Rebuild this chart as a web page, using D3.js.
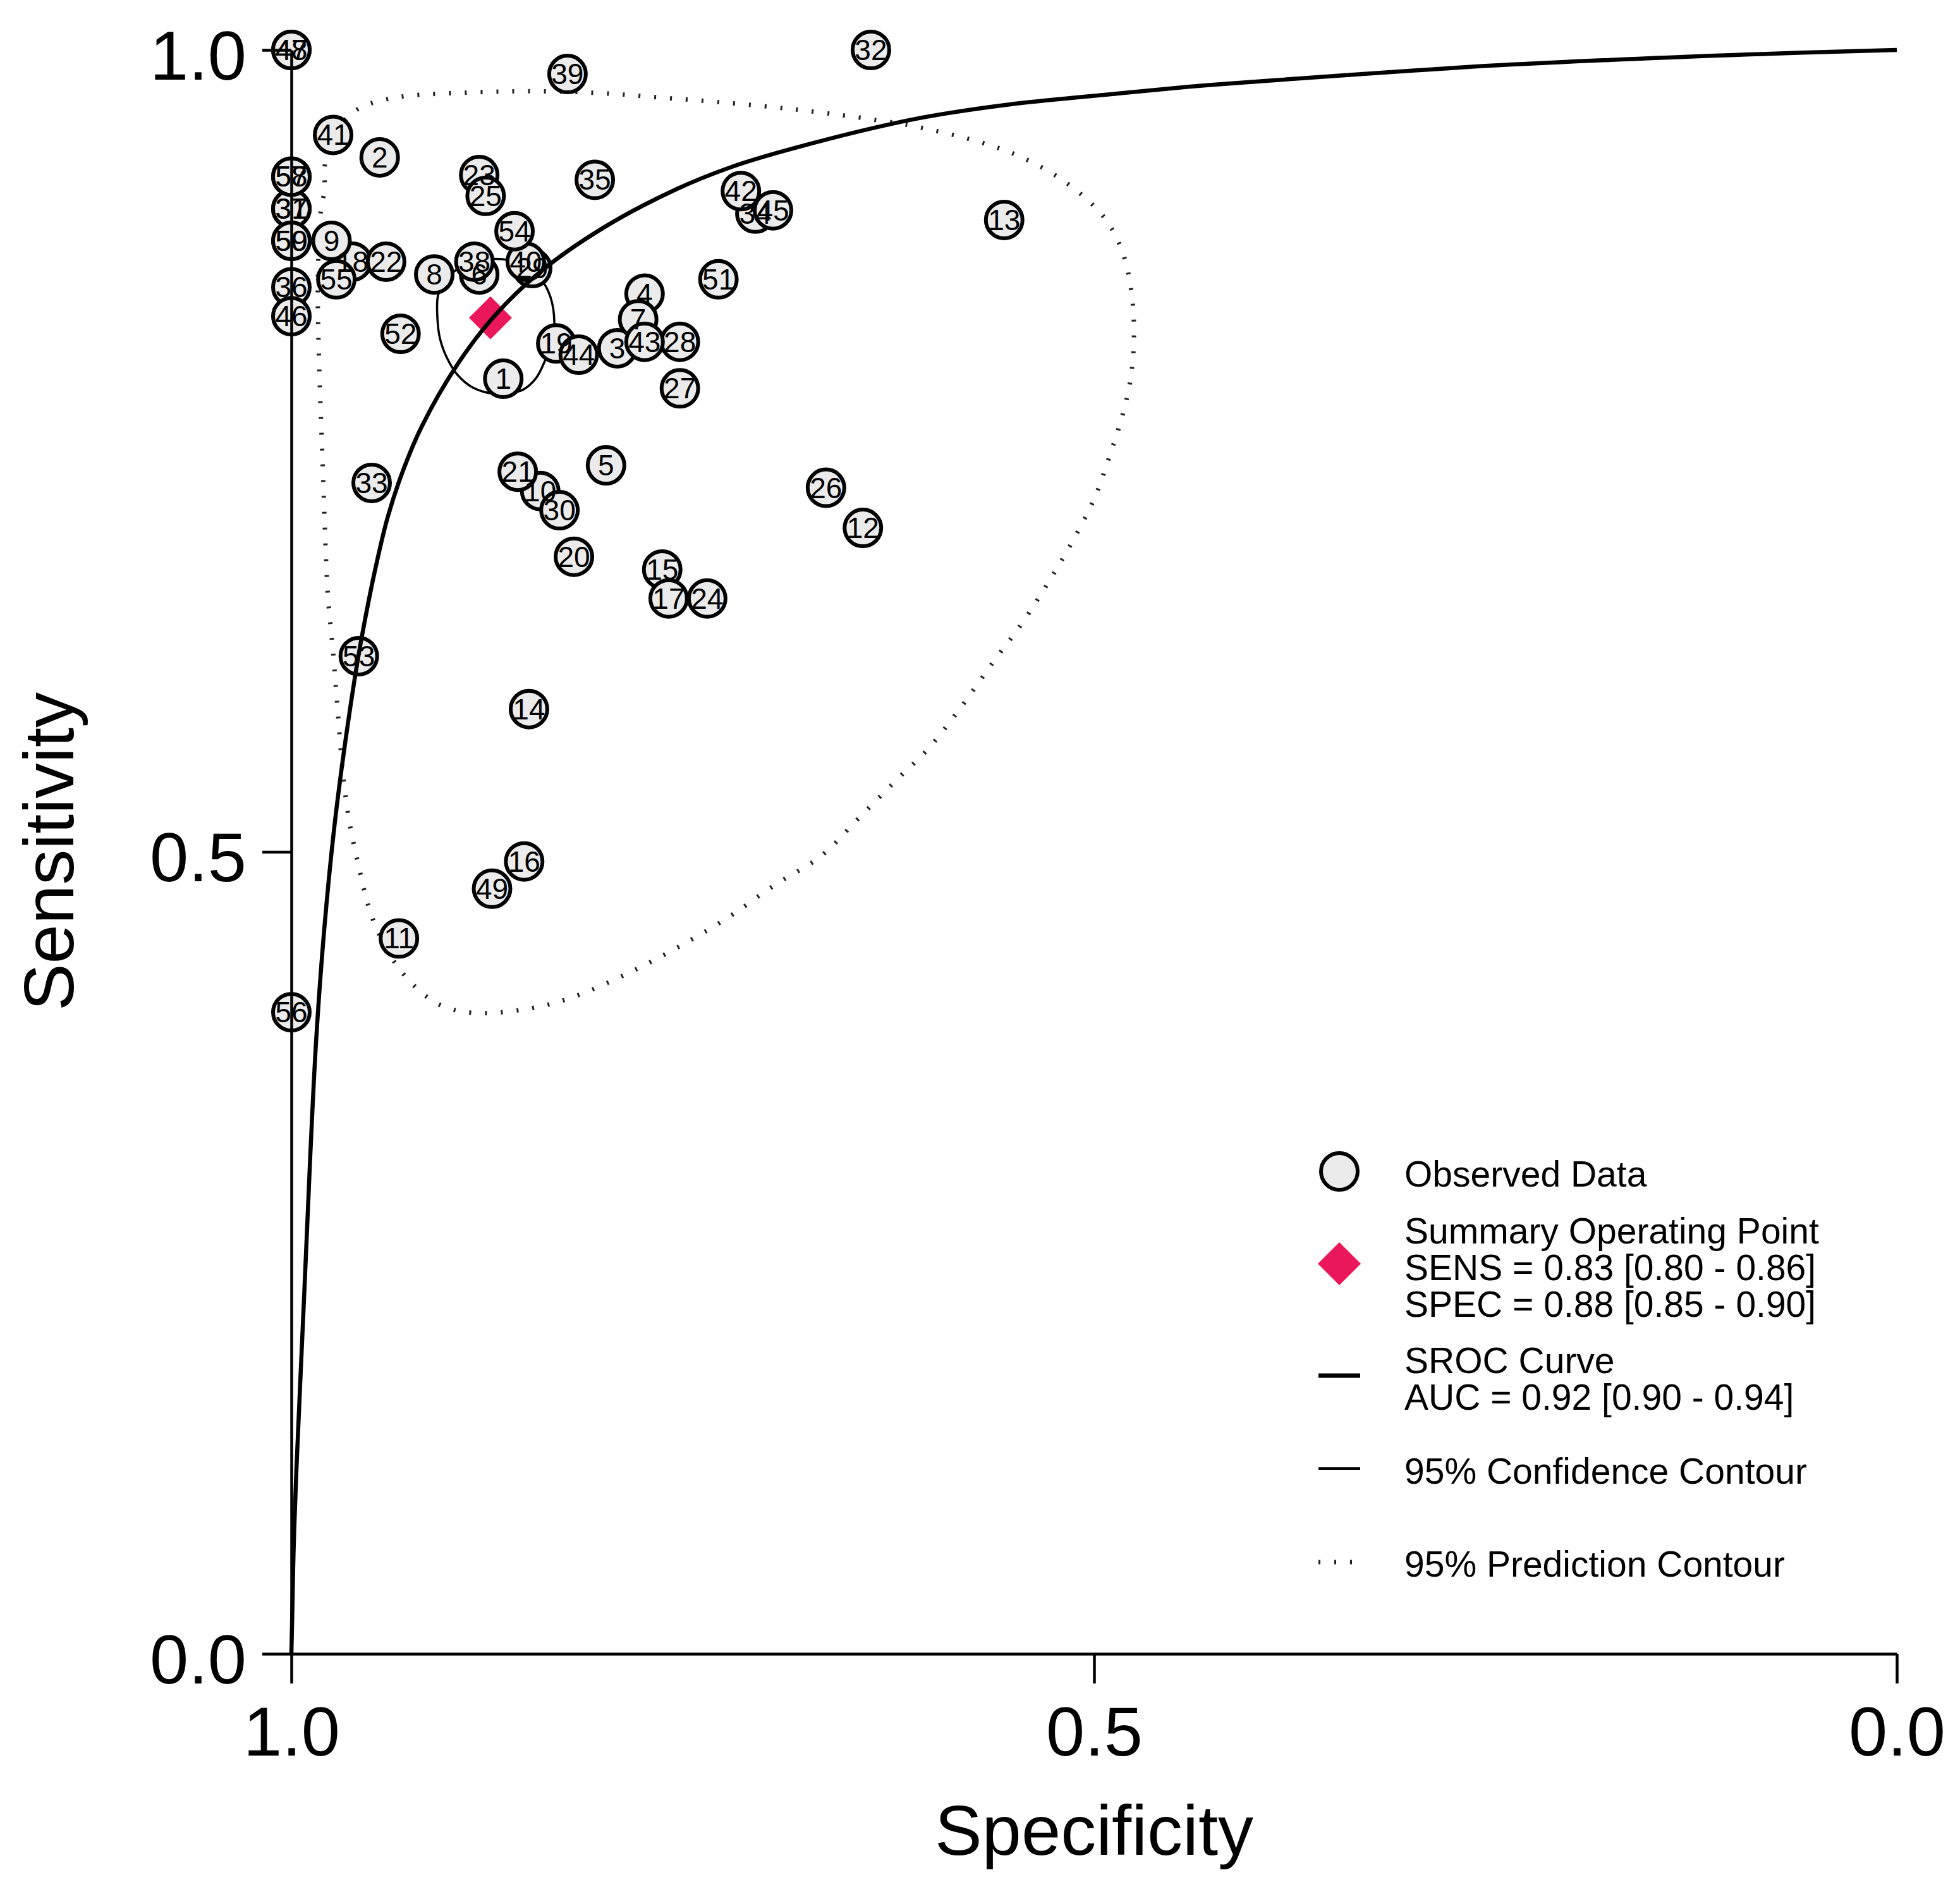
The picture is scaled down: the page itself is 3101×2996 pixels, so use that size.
<!DOCTYPE html>
<html>
<head>
<meta charset="utf-8">
<script src="https://cdn.jsdelivr.net/npm/d3@7"></script>
<style>
  body { margin: 0; background: #fff; }
  svg { display: block; }
  text { font-family: "Liberation Sans", Arial, Helvetica, sans-serif; fill: #000; }
</style>
</head>
<body>
<div id="chart"></div>
<script>
// study labels and observed values
var studyIds = [1,2,3,4,5,6,7,8,9,10,11,12,13,14,15,16,17,18,19,20,21,22,23,24,25,26,27,28,29,30,
                31,32,33,34,35,36,37,38,39,40,41,42,43,44,45,46,47,48,49,50,51,52,53,54,55,56,57,58,59];
var studySpec = [0.868,0.945,0.797,0.780,0.804,0.883,0.784,0.911,0.975,0.845,0.933,0.644,0.556,0.852,0.769,
                 0.855,0.765,0.962,0.835,0.824,0.859,0.941,0.883,0.741,0.879,0.667,0.758,0.758,0.850,0.833,
                 1.000,0.639,0.950,0.711,0.811,1.000,1.000,0.886,0.828,0.854,0.974,0.720,0.780,0.821,0.700,
                 1.000,1.000,1.000,0.875,1.000,0.734,0.932,0.958,0.861,0.972,1.000,1.000,1.000,1.000];
var studySens = [0.795,0.933,0.814,0.848,0.741,0.860,0.832,0.860,0.881,0.725,0.446,0.702,0.894,0.589,0.676,
                 0.494,0.658,0.868,0.817,0.684,0.737,0.868,0.922,0.658,0.909,0.727,0.789,0.818,0.864,0.713,
                 0.901,1.000,0.730,0.898,0.919,0.852,0.901,0.868,0.985,0.868,0.947,0.912,0.818,0.810,0.900,
                 0.834,1.000,1.000,0.477,0.881,0.857,0.823,0.622,0.887,0.857,0.400,0.921,0.921,0.881];

// summary operating point
var summarySpec = 0.876;
var summarySens = 0.833;

// SROC curve
var srocSpec = [1.000,0.9995,0.9986,0.9969,0.9921,0.9883,0.9846,0.9795,0.9732,0.9665,0.9591,0.9539,0.9476,
                0.9402,0.9311,0.9189,0.8965,0.8736,0.8445,0.8059,0.7606,0.726,0.6898,0.6114,0.5528,0.4937,
                0.4413,0.4028,0.2469,0.0913,0.000];
var srocSens = [0.000,0.022,0.065,0.114,0.222,0.309,0.382,0.452,0.516,0.568,0.617,0.646,0.677,
                0.708,0.736,0.765,0.804,0.834,0.862,0.889,0.913,0.927,0.938,0.957,0.966,0.972,
                0.977,0.980,0.9905,0.9972,1.000];

// 95% confidence contour
var confSpec = [0.9087,0.9091,0.9075,0.9031,0.8965,0.8870,0.8760,0.8646,0.8555,0.8476,0.8421,0.8378,0.8362,
                0.8386,0.8449,0.8547,0.8685,0.8823,0.8961,0.9047];
var confSens = [0.8467,0.8341,0.8203,0.8080,0.7974,0.7895,0.7860,0.7860,0.7883,0.7954,0.8061,0.8183,0.8289,
                0.8459,0.8577,0.8656,0.8695,0.8687,0.8636,0.8557];

// 95% prediction contour
var predSpec = [0.9787,0.9728,0.9638,0.9551,0.9346,0.8965,0.8283,0.7606,0.6898,0.6350,0.6114,0.5720,0.5449,
                0.5173,0.4937,0.4823,0.4764,0.4752,0.4772,0.4823,0.4898,0.4996,0.5134,0.5272,0.5449,0.5622,
                0.5819,0.6035,0.6232,0.6465,0.6701,0.6996,0.7248,0.7472,0.7874,0.8276,0.8555,0.8878,0.9079,
                0.9240,0.9378,0.9500,0.9579,0.9642,0.9681,0.9713,0.9740,0.9772,0.9803,0.9835,0.9831,0.9815,0.9795];
var predSens = [0.9318,0.9484,0.9590,0.9649,0.9704,0.9732,0.9740,0.9696,0.9633,0.9562,0.9523,0.9428,0.9330,
                0.9172,0.8955,0.8739,0.8467,0.8191,0.7954,0.7722,0.7485,0.7209,0.6937,0.6701,0.6425,0.6192,
                0.5916,0.5641,0.5447,0.5211,0.4974,0.4789,0.4612,0.4474,0.4257,0.4084,0.4017,0.3997,0.4048,
                0.4170,0.4344,0.4600,0.4903,0.5207,0.5510,0.5901,0.6244,0.6590,0.7355,0.8388,0.8735,0.9011,0.9117];

var tickValues = [1.0, 0.5, 0.0];
var xTitle = "Specificity";
var yTitle = "Sensitivity";

var legendObserved = ["Observed Data"];
var legendSummary = ["Summary Operating Point", "SENS = 0.83 [0.80 - 0.86]", "SPEC = 0.88 [0.85 - 0.90]"];
var legendSroc = ["SROC Curve", "AUC = 0.92 [0.90 - 0.94]"];
var legendConf = ["95% Confidence Contour"];
var legendPred = ["95% Prediction Contour"];

var width = 3101, height = 2996;
var pink = "#ea175b";
var ptFill = "#ebebeb";

var svg = d3.select("#chart").append("svg")
    .attr("width", width)
    .attr("height", height);

svg.append("rect").attr("width", width).attr("height", height).attr("fill", "#fff");

var x = d3.scaleLinear().domain([1, 0]).range([461, 3001]);
var y = d3.scaleLinear().domain([0, 1]).range([2616, 79]);

var line = d3.line()
    .x(function (d) { return x(d[0]); })
    .y(function (d) { return y(d[1]); });

var studies = studyIds.map(function (id, i) {
    return { id: id, spec: studySpec[i], sens: studySens[i] };
});
// 18 sits behind 9 and 55 in the original
var drawOrder = studies.slice().sort(function (a, b) {
    return (a.id == 18 ? -1 : 0) - (b.id == 18 ? -1 : 0);
});

// prediction contour (dotted)
var pred = predSpec.map(function (s, i) { return [s, predSens[i]]; });
svg.append("path")
    .datum(pred)
    .attr("d", line.curve(d3.curveCatmullRomClosed.alpha(0.5)))
    .attr("fill", "none")
    .attr("stroke", "#222")
    .attr("stroke-width", 7)
    .attr("stroke-dasharray", "3 22");

// confidence contour
var conf = confSpec.map(function (s, i) { return [s, confSens[i]]; });
svg.append("path")
    .datum(conf)
    .attr("d", line.curve(d3.curveCatmullRomClosed.alpha(0.5)))
    .attr("fill", "none")
    .attr("stroke", "#000")
    .attr("stroke-width", 3.5);

// circles first, labels after (overlapping labels blend like the original)
svg.append("g").selectAll("circle")
    .data(drawOrder)
    .enter()
    .append("circle")
    .attr("cx", function (d) { return x(d.spec); })
    .attr("cy", function (d) { return y(d.sens); })
    .attr("r", 29)
    .attr("fill", ptFill)
    .attr("stroke", "#000")
    .attr("stroke-width", 6);

svg.append("g").selectAll("text")
    .data(drawOrder)
    .enter()
    .append("text")
    .attr("x", function (d) { return x(d.spec); })
    .attr("y", function (d) { return y(d.sens) + 16; })
    .attr("text-anchor", "middle")
    .style("font-size", "46px")
    .text(function (d) { return d.id; });

// summary point
var diamond = d3.symbol().type(d3.symbolSquare).size(2 * 34 * 34);
svg.append("path")
    .attr("d", diamond())
    .attr("transform", "translate(" + x(summarySpec) + "," + y(summarySens) + ") rotate(45)")
    .attr("fill", pink);

// SROC curve
var sroc = srocSpec.map(function (s, i) { return [s, srocSens[i]]; });
svg.append("path")
    .datum(sroc)
    .attr("d", line.curve(d3.curveCatmullRom.alpha(0.5)))
    .attr("fill", "none")
    .attr("stroke", "#000")
    .attr("stroke-width", 6.5);

// axes
var xAxis = d3.axisBottom(x).tickValues(tickValues).tickFormat(d3.format(".1f"))
    .tickSize(47).tickSizeOuter(0).tickPadding(36);
var yAxis = d3.axisLeft(y).tickValues(tickValues).tickFormat(d3.format(".1f"))
    .tickSize(46).tickSizeOuter(0).tickPadding(25);

var gx = svg.append("g").attr("transform", "translate(0,2616)").call(xAxis);
var gy = svg.append("g").attr("transform", "translate(461,0)").call(yAxis);

[gx, gy].forEach(function (g) {
    g.select(".domain").attr("stroke", "#000").attr("stroke-width", 4.5);
    g.selectAll(".tick line").attr("stroke", "#000").attr("stroke-width", 4.5);
    g.selectAll(".tick text")
        .attr("fill", "#000")
        .style("font-family", "'Liberation Sans', Arial, Helvetica, sans-serif")
        .style("font-size", "110px");
});
gy.selectAll(".tick text").attr("dy", "0.42em");

svg.append("text")
    .attr("x", 1731)
    .attr("y", 2934)
    .attr("text-anchor", "middle")
    .style("font-size", "112px")
    .text(xTitle);

svg.append("text")
    .attr("transform", "translate(116,1347) rotate(-90)")
    .attr("text-anchor", "middle")
    .style("font-size", "112px")
    .text(yTitle);

// legend
var lg = svg.append("g");
var lx = 2119, tx = 2222, lh = 58;

function legendLines(lines, y0) {
    lines.forEach(function (t, i) {
        lg.append("text")
            .attr("x", tx)
            .attr("y", y0 + i * lh)
            .style("font-size", "57px")
            .text(t);
    });
}

lg.append("circle").attr("cx", lx).attr("cy", 1853).attr("r", 29)
    .attr("fill", ptFill).attr("stroke", "#000").attr("stroke-width", 6);
legendLines(legendObserved, 1877);

lg.append("path").attr("d", diamond())
    .attr("transform", "translate(" + lx + ",1999) rotate(45)")
    .attr("fill", pink);
legendLines(legendSummary, 1967);

lg.append("line").attr("x1", 2086).attr("x2", 2152).attr("y1", 2176).attr("y2", 2176)
    .attr("stroke", "#000").attr("stroke-width", 7);
legendLines(legendSroc, 2172);

lg.append("line").attr("x1", 2086).attr("x2", 2152).attr("y1", 2323).attr("y2", 2323)
    .attr("stroke", "#000").attr("stroke-width", 4);
legendLines(legendConf, 2347);

lg.append("line").attr("x1", 2086).attr("x2", 2155).attr("y1", 2471).attr("y2", 2471)
    .attr("stroke", "#222").attr("stroke-width", 7).attr("stroke-dasharray", "3 22");
legendLines(legendPred, 2494);
</script>
</body>
</html>
